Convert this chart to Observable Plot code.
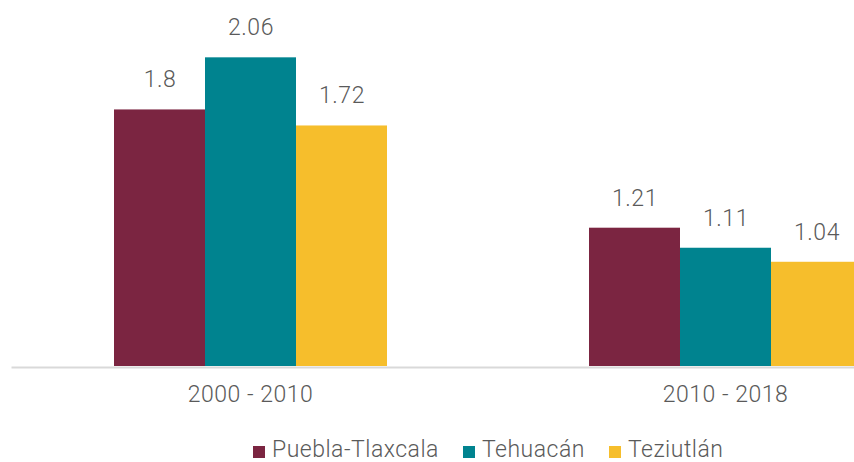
<!DOCTYPE html>
<html>
<head>
<meta charset="utf-8">
<script src="https://cdn.jsdelivr.net/npm/d3@7"></script>
<script src="https://cdn.jsdelivr.net/npm/@observablehq/plot@0.6"></script>
<style>
  html, body { margin: 0; padding: 0; background: #fff; overflow: hidden; }
  #wrap { width: 854px; height: 428px; overflow: hidden; }
  #wrap svg { max-width: none; }
  #wrap svg text { letter-spacing: 0.5px; }
  #legend { display: flex; align-items: center; padding-left: 253px; padding-top: 10px;
            font-family: Roboto, "Noto Sans", sans-serif; font-weight: 300; font-size: 23px;
            line-height: 23px; color: #5a5a5a; letter-spacing: 0.5px; }
  #legend .item { display: flex; align-items: center; margin-right: 24px; }
  #legend .sw { width: 12px; height: 12px; margin-right: 7px; position: relative; top: 2px; }
</style>
</head>
<body>
<div id="wrap"></div>
<div id="legend"></div>
<script>
const periods = ["2000 - 2010", "2010 - 2018"];
const series = ["Puebla-Tlaxcala", "Tehuacán", "Teziutlán"];
const pueblaTlaxcala = [1.8, 1.21];
const tehuacan = [2.06, 1.11];
const teziutlan = [1.72, 1.04];
const colors = ["#7b2541", "#00838f", "#f6be2c"];
const yBase = 0.52;

const seriesValues = [pueblaTlaxcala, tehuacan, teziutlan];
const data = periods.flatMap((p, i) =>
  series.map((s, j) => ({period: p, series: s, value: seriesValues[j][i]}))
);

const chart = Plot.plot({
  width: 963,
  height: 428,
  marginLeft: 12,
  marginRight: 0,
  marginTop: 0,
  marginBottom: 62,
  style: {fontFamily: "Roboto, 'Noto Sans', sans-serif", fontSize: "23px", fontWeight: 300, color: "#5a5a5a", maxWidth: "none"},
  fx: {domain: periods, paddingInner: 0.4232, paddingOuter: 0.2126, label: null, tickSize: 0, tickPadding: 19},
  x: {domain: series, padding: 0, axis: null},
  y: {domain: [yBase, 2.346], axis: null},
  color: {domain: series, range: colors},
  marks: [
    Plot.frame({facet: "super", anchor: "bottom", stroke: "#d9d9d9", strokeWidth: 2, dy: 1, insetLeft: -101}),
    Plot.barY(data, {fx: "period", x: "series", y1: yBase, y2: "value", fill: "series"}),
    Plot.text(data, {fx: "period", x: "series", y: "value", text: d => String(d.value), dy: -30, fill: "#5a5a5a", fontSize: 23})
  ]
});
document.getElementById("wrap").appendChild(chart);

const legend = d3.select("#legend");
series.forEach((s, i) => {
  const item = legend.append("div").attr("class", "item");
  item.append("div").attr("class", "sw").style("background", colors[i]);
  item.append("span").text(s);
});
</script>
</body>
</html>
